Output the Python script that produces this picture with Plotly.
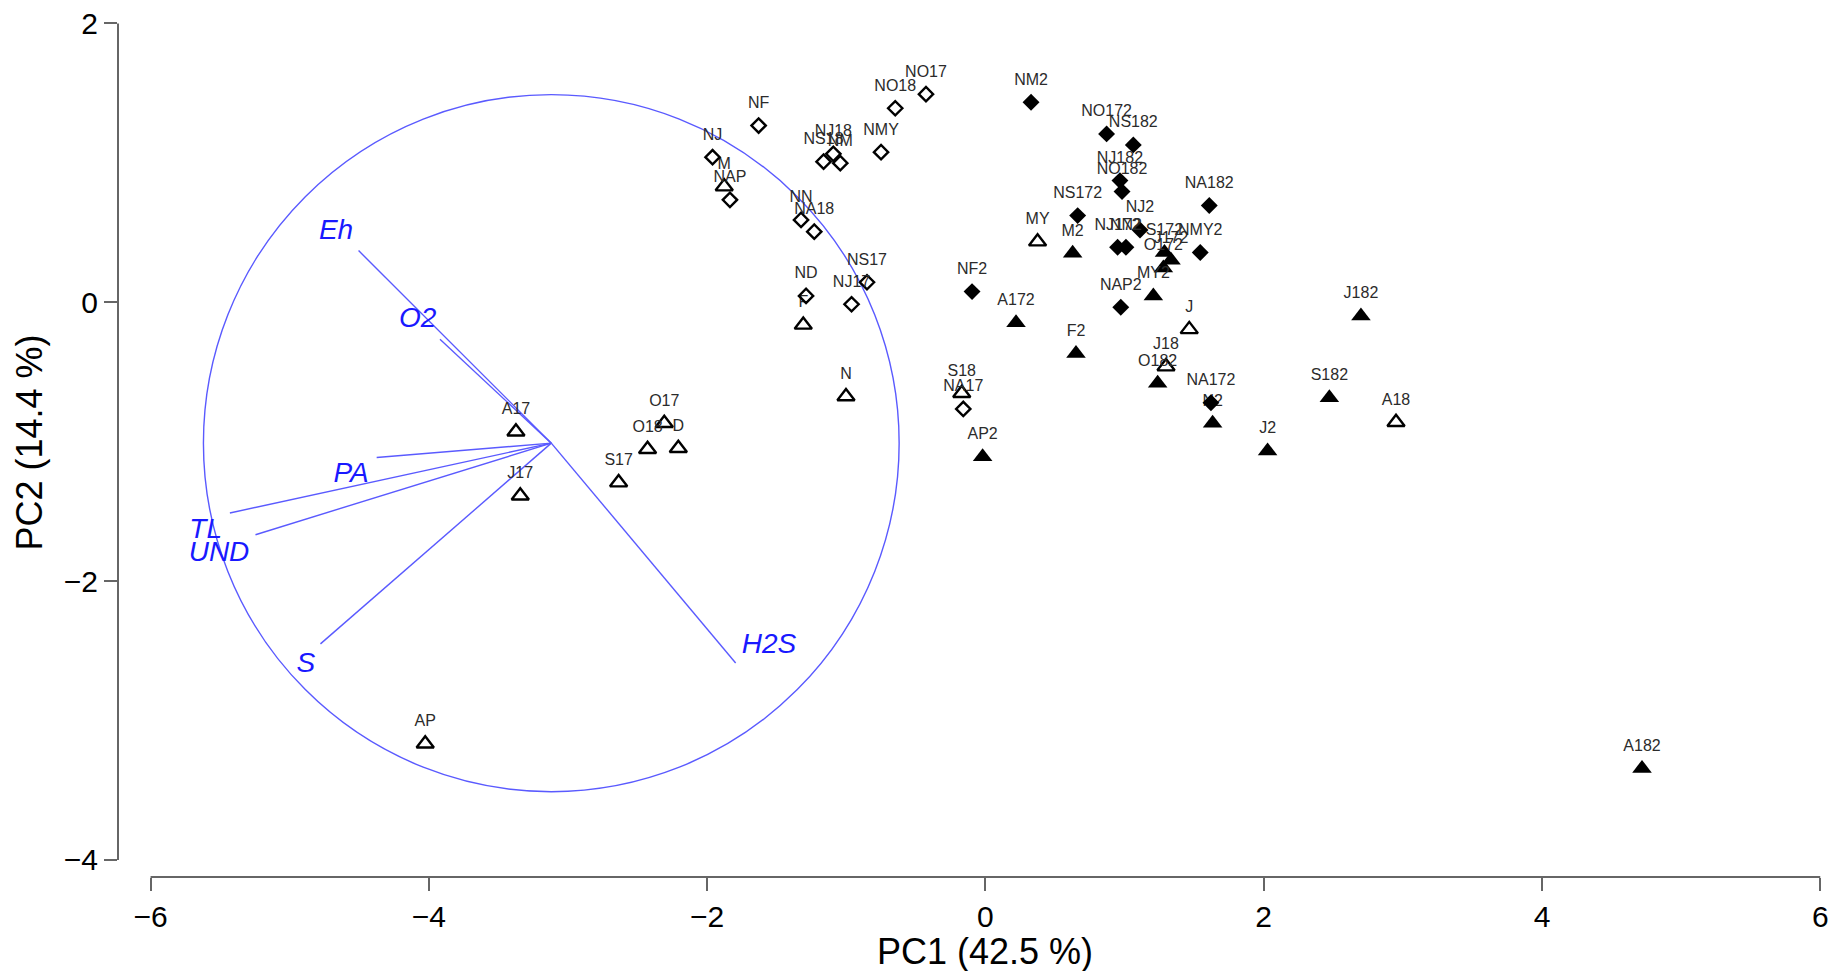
import plotly.graph_objects as go

# ---- sample scores (PC1, PC2) ----
open_tri_names = ["M", "F", "N", "A17", "J17", "O17", "O18", "D", "S17", "AP", "S18", "MY", "J", "J18", "A18"]
open_tri_x = [-1.877, -1.309, -1.002, -3.374, -3.343, -2.308, -2.428, -2.207, -2.636, -4.026, -0.170, 0.375, 1.465, 1.298, 2.951]
open_tri_y = [0.830, -0.162, -0.676, -0.928, -1.387, -0.867, -1.054, -1.047, -1.293, -3.166, -0.652, 0.435, -0.194, -0.461, -0.860]

open_dia_names = ["NF", "NJ", "NAP", "NS18", "NJ18", "NM", "NMY", "NO18", "NO17", "NN", "NA18", "ND", "NJ17", "NS17", "NA17"]
open_dia_x = [-1.630, -1.961, -1.836, -1.163, -1.093, -1.043, -0.750, -0.648, -0.427, -1.325, -1.230, -1.289, -0.962, -0.851, -0.159]
open_dia_y = [1.268, 1.041, 0.735, 1.009, 1.065, 0.998, 1.077, 1.392, 1.493, 0.591, 0.507, 0.046, -0.014, 0.144, -0.765]

filled_tri_names = ["A172", "M2", "F2", "MY2", "O182", "N2", "J2", "S182", "J182", "A182", "AP2", "S172", "J172", "O172"]
filled_tri_x = [0.220, 0.627, 0.651, 1.207, 1.238, 1.633, 2.028, 2.472, 2.699, 4.719, -0.020, 1.287, 1.334, 1.279]
filled_tri_y = [-0.146, 0.352, -0.367, 0.046, -0.580, -0.867, -1.066, -0.684, -0.098, -3.343, -1.107, 0.357, 0.302, 0.247]

filled_dia_names = ["NM2", "NO172", "NS182", "NJ182", "NO182", "NA182", "NS172", "NJ2", "NMY2", "NJ172", "NN2", "NAP2", "NF2", "NA172"]
filled_dia_x = [0.328, 0.871, 1.063, 0.967, 0.982, 1.609, 0.663, 1.111, 1.544, 0.950, 1.010, 0.973, -0.096, 1.621]
filled_dia_y = [1.435, 1.208, 1.129, 0.873, 0.794, 0.694, 0.622, 0.519, 0.357, 0.395, 0.395, -0.035, 0.077, -0.720]

# ---- variable loadings (biplot, drawn from the circle centre) ----
var_names = ["Eh", "O2", "PA", "TL", "UND", "S", "H2S"]
load_x = [-4.505, -3.920, -4.375, -5.430, -5.246, -4.779, -1.795]
load_y = [0.371, -0.265, -1.113, -1.511, -1.667, -2.450, -2.587]
label_x = [-4.667, -4.081, -4.559, -5.604, -5.508, -4.884, -1.556]
label_y = [0.507, -0.126, -1.238, -1.640, -1.805, -2.601, -2.465]
circle_center = (-3.12, -1.01)
circle_radius = 2.5

x_ticks = [-6, -4, -2, 0, 2, 4, 6]
y_ticks = [-4, -2, 0, 2]
x_title = "PC1 (42.5 %)"
y_title = "PC2 (14.4 %)"

FONT = "Arial, 'Liberation Sans', sans-serif"
BLUE_LINE = "rgb(90,90,255)"
BLUE_TEXT = "rgb(25,25,255)"
LABEL_COLOR = "#2b2b2b"

fig = go.Figure()

# circle
cx, cy = circle_center
fig.add_shape(type="circle", xref="x", yref="y",
              x0=cx - circle_radius, x1=cx + circle_radius,
              y0=cy - circle_radius, y1=cy + circle_radius,
              line=dict(color=BLUE_LINE, width=1.4), layer="below")

# loading lines
lx, ly = [], []
for x, y in zip(load_x, load_y):
    lx += [cx, x, None]
    ly += [cy, y, None]
fig.add_trace(go.Scatter(x=lx, y=ly, mode="lines",
                         line=dict(color=BLUE_LINE, width=1.4),
                         hoverinfo="skip", showlegend=False))
fig.add_trace(go.Scatter(x=label_x, y=label_y, mode="text", text=var_names,
                         textposition="middle center",
                         textfont=dict(family=FONT, size=28, color=BLUE_TEXT, style="italic"),
                         hoverinfo="skip", showlegend=False))

groups = [
    (open_tri_names, open_tri_x, open_tri_y, "triangle-up-open", 15),
    (open_dia_names, open_dia_x, open_dia_y, "diamond-open", 11),
    (filled_tri_names, filled_tri_x, filled_tri_y, "triangle-up", 17),
    (filled_dia_names, filled_dia_x, filled_dia_y, "diamond", 13),
]
for names, xs, ys, sym, sz in groups:
    fig.add_trace(go.Scatter(
        x=xs, y=ys, mode="markers",
        marker=dict(symbol=sym, size=sz, color="black",
                    line=dict(color="black", width=2.4 if "open" in sym else 0)),
        hovertext=names, hoverinfo="text", showlegend=False))
    fig.add_trace(go.Scatter(
        x=xs, y=ys, mode="markers+text", text=names, textposition="top center",
        marker=dict(size=20, color="rgba(0,0,0,0)"),
        textfont=dict(family=FONT, size=16, color=LABEL_COLOR),
        hoverinfo="skip", showlegend=False))

# detached R-style axis lines
fig.add_shape(type="line", xref="x", yref="paper", x0=x_ticks[0], x1=x_ticks[-1], y0=0, y1=0,
              line=dict(color="#666666", width=2))
fig.add_shape(type="line", xref="paper", yref="y", x0=0, x1=0, y0=y_ticks[0], y1=y_ticks[-1],
              line=dict(color="#666666", width=2))

# x-axis title as annotation centred under the axis
fig.add_annotation(text=x_title, xref="x", yref="paper", x=(x_ticks[0] + x_ticks[-1]) / 2, y=0,
                   yanchor="middle", xanchor="center", yshift=-74, showarrow=False,
                   font=dict(family=FONT, size=36, color="black"))

# page body has an 8 px margin, so the figure is 1829 x 963
fig.update_layout(
    width=1829, height=963,
    margin=dict(l=110, r=2, t=0, b=94, autoexpand=False),
    paper_bgcolor="white", plot_bgcolor="white",
    font=dict(family=FONT, color="black"),
    xaxis=dict(range=[-6.234, 6.106], tickvals=x_ticks, ticks="outside", ticklen=13,
               tickwidth=1.5, tickcolor="#666666", showgrid=False, zeroline=False,
               showline=False, tickfont=dict(size=30, color="black"),
               automargin=False),
    yaxis=dict(range=[-4.122, 2.111], tickvals=y_ticks, ticks="outside", ticklen=13,
               tickwidth=1.5, tickcolor="#666666", showgrid=False, zeroline=False,
               showline=False, tickfont=dict(size=30, color="black"),
               ticklabeloverflow="allow", automargin=False,
               title=dict(text=y_title, font=dict(size=36, color="black"), standoff=10)),
)

fig.write_html("out.html")
